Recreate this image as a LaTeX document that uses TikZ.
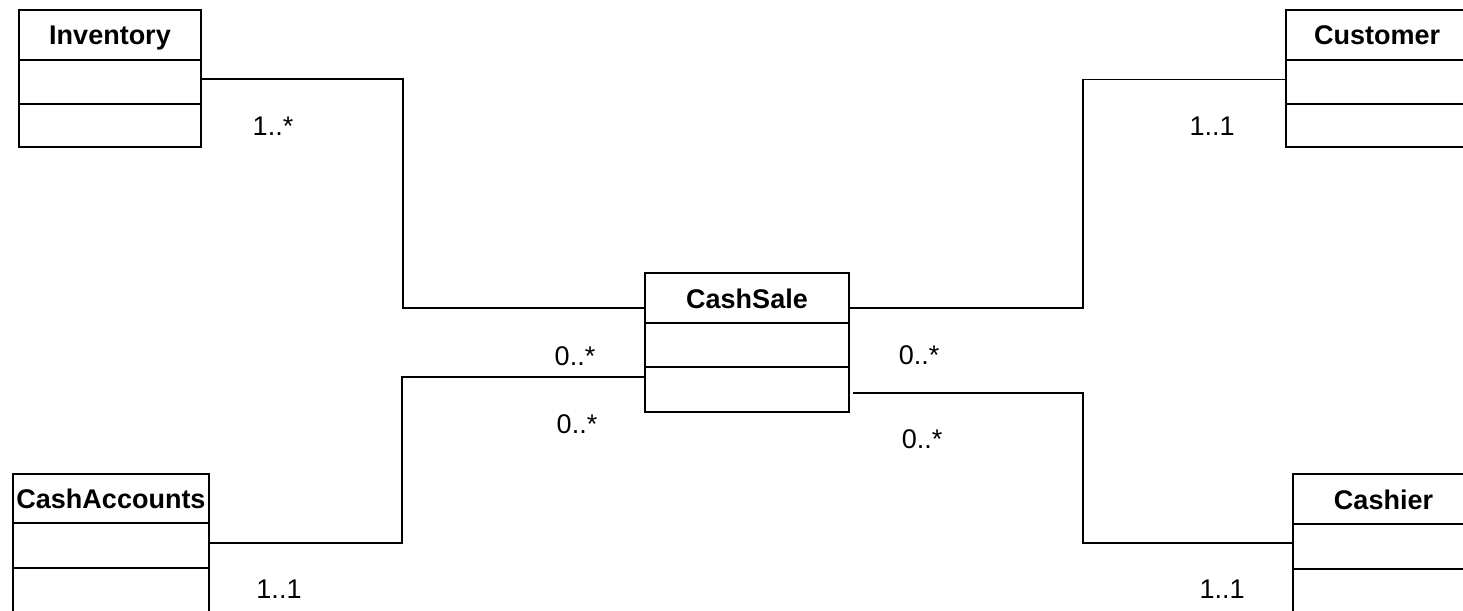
\documentclass[tikz,border=0pt]{standalone}
\usepackage{fontspec}
\setmainfont{Liberation Sans}
\begin{document}
\begin{tikzpicture}[x=1pt,y=-1pt,
  classhead/.style={draw, line width=1.8pt, outer sep=0pt, inner sep=0pt,
    minimum height=50pt, text height=20pt, text depth=0pt,
    font=\bfseries\fontsize{27}{30}\selectfont},
  compart/.style={draw, line width=1.8pt, outer sep=0pt, inner sep=0pt, anchor=north},
  mult/.style={inner sep=0pt, anchor=base, font=\fontsize{27}{30}\selectfont},
  assoc/.style={line width=1.1pt}]
\useasboundingbox (0,0) rectangle (1463,610);

% Inventory
\node[classhead, minimum width=182pt] (inv) at (110,35) {Inventory};
\node[compart, minimum width=182pt, minimum height=44pt] (inv1) at (inv.south) {};
\node[compart, minimum width=182pt, minimum height=43pt] (inv2) at (inv1.south) {};

% Customer
\node[classhead, minimum width=182pt] (cu) at (1377,35) {Customer};
\node[compart, minimum width=182pt, minimum height=44pt] (cu1) at (cu.south) {};
\node[compart, minimum width=182pt, minimum height=43pt] (cu2) at (cu1.south) {};

% CashSale
\node[classhead, minimum width=204pt] (cs) at (747,298) {CashSale};
\node[compart, minimum width=204pt, minimum height=44pt] (cs1) at (cs.south) {};
\node[compart, minimum width=204pt, minimum height=45pt] (cs2) at (cs1.south) {};

% CashAccounts
\node[classhead, minimum width=196pt, minimum height=49pt] (ca) at (111,498.5) {CashAccounts};
\node[compart, minimum width=196pt, minimum height=45pt] (ca1) at (ca.south) {};
\node[compart, minimum width=196pt, minimum height=50pt] (ca2) at (ca1.south) {};

% Cashier
\node[classhead, minimum width=181pt] (ch) at (1383.5,499) {Cashier};
\node[compart, minimum width=181pt, minimum height=45pt] (ch1) at (ch.south) {};
\node[compart, minimum width=181pt, minimum height=50pt] (ch2) at (ch1.south) {};

% bend points of the associations
\coordinate (bInv) at (403,200);
\coordinate (bCu) at (1083,200);
\coordinate (bCa) at (402,450);
\coordinate (bCh) at (1083,450);

% associations
\draw[assoc] ([yshift=3pt]inv1.east) -| (bInv) |- ([yshift=-10pt]cs.west);
\draw[assoc] ([yshift=2.5pt]cu1.west) -| (bCu) |- ([yshift=-10pt]cs.east);
\draw[assoc] ([yshift=2.5pt]ca1.east) -| (bCa) |- ([yshift=12.5pt]cs2.west);
\draw[assoc] ([yshift=3.5pt]ch1.west) -| (bCh) |- ([xshift=4pt,yshift=-3.5pt]cs2.east);

% multiplicities
\node[mult] (mInv) at (273,135) {1..*};
\node[mult] (mCu) at (1212,135) {1..1};
\node[mult] (mCsA) at (575,365) {0..*};
\node[mult] (mCsB) at (577,433) {0..*};
\node[mult] (mCsC) at (919,364) {0..*};
\node[mult] (mCsD) at (922,448) {0..*};
\node[mult] (mCa) at (279,598) {1..1};
\node[mult] (mCh) at (1222,598) {1..1};
\end{tikzpicture}
\end{document}
